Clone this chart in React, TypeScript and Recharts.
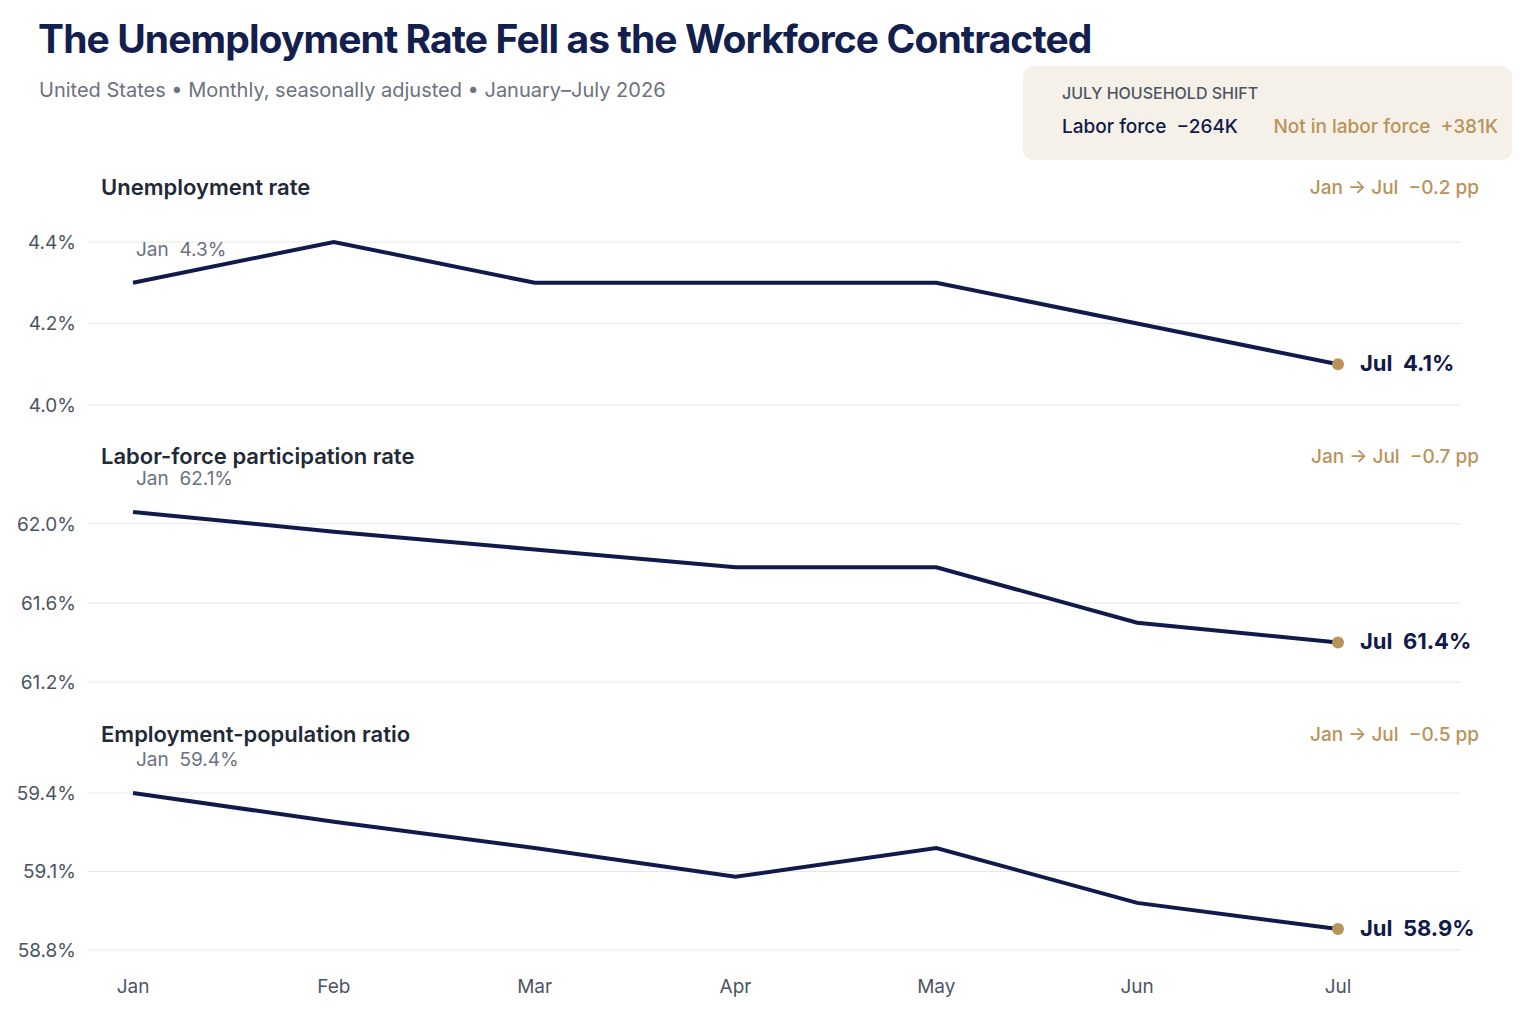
import React from 'react'
import { LineChart, Line, XAxis, YAxis, ReferenceLine } from 'recharts'

const months = ['Jan', 'Feb', 'Mar', 'Apr', 'May', 'Jun', 'Jul']
const unemployment = [4.3, 4.4, 4.3, 4.3, 4.3, 4.2, 4.1]
const participation = [62.06, 61.96, 61.87, 61.78, 61.78, 61.5, 61.4]
const empPop = [59.4, 59.29, 59.19, 59.08, 59.19, 58.98, 58.88]

const NAVY = '#101a4b'
const GOLD = '#b8935a'
const FONT = 'Inter, "Noto Sans", sans-serif'
const SP = '\u00a0\u00a0'

interface Panel {
  title: string
  values: number[]
  domain: [number, number]
  ticks: number[]
  change: string
  top: number
  height: number
  titleY: number
  showX?: boolean
}

// top = plot top - 50 (margin)
const panels: Panel[] = [
  { title: 'Unemployment rate', values: unemployment, domain: [4.0, 4.4], ticks: [4.0, 4.2, 4.4], change: '−0.2 pp', top: 192, height: 233, titleY: 188 },
  { title: 'Labor-force participation rate', values: participation, domain: [61.2, 62.1], ticks: [61.2, 61.6, 62.0], change: '−0.7 pp', top: 454, height: 248, titleY: 457 },
  { title: 'Employment-population ratio', values: empPop, domain: [58.8, 59.4], ticks: [58.8, 59.1, 59.4], change: '−0.5 pp', top: 743, height: 262, titleY: 735, showX: true },
]

const makeDot = (n: number) => (props: any) => {
  const { cx, cy, index, payload } = props
  if (index === 0) {
    return (
      <text key="first" x={cx + 3} y={cy - 27} fill="#6b7280" fontSize={19} fontFamily={FONT}>
        {`Jan${SP}${payload.v.toFixed(1)}%`}
      </text>
    )
  }
  if (index === n - 1) {
    return (
      <g key="last">
        <circle cx={cx} cy={cy} r={6} fill={GOLD} />
        <text x={cx + 22} y={cy + 7} fill={NAVY} fontSize={22} fontWeight={700} fontFamily={FONT}>
          {`Jul${SP}${payload.v.toFixed(1)}%`}
        </text>
      </g>
    )
  }
  return <g key={index} />
}

export default function App() {
  return (
    <div style={{ position: 'absolute', left: 0, top: 0, width: 1529, height: 1029, background: '#fff', fontFamily: FONT, overflow: 'hidden' }}>
      <div style={{ position: 'absolute', left: 38, top: 15, fontSize: 39, fontWeight: 700, color: '#13204d', letterSpacing: -0.9 }}>
        The Unemployment Rate Fell as the Workforce Contracted
      </div>
      <div style={{ position: 'absolute', left: 39, top: 78, fontSize: 20, color: '#6b7280' }}>
        United States • Monthly, seasonally adjusted • January–July 2026
      </div>
      <div style={{ position: 'absolute', left: 1023, top: 66, width: 489, height: 94, background: '#f6f1e8', borderRadius: 10 }}>
        <div style={{ position: 'absolute', left: 39, top: 17, fontSize: 16, color: '#4b5563', fontWeight: 500 }}>JULY HOUSEHOLD SHIFT</div>
        <div style={{ position: 'absolute', left: 39, top: 49, fontSize: 19, color: NAVY, fontWeight: 500 }}>Labor force&nbsp;&nbsp;−264K</div>
        <div style={{ position: 'absolute', right: 14, top: 49, fontSize: 19, color: GOLD, fontWeight: 500 }}>Not in labor force&nbsp;&nbsp;+381K</div>
      </div>
      {panels.map((p) => {
        const data = months.map((m, i) => ({ m, v: p.values[i] }))
        return (
          <React.Fragment key={p.title}>
            <div style={{ position: 'absolute', left: 101, top: p.titleY - 14, fontSize: 22, fontWeight: 600, color: '#1f2937' }}>{p.title}</div>
            <div style={{ position: 'absolute', right: 50, top: p.titleY - 12, fontSize: 19, fontWeight: 500, color: GOLD }}>Jan → Jul&nbsp;&nbsp;{p.change}</div>
            <div style={{ position: 'absolute', left: 0, top: p.top }}>
              <LineChart width={1500} height={p.height} data={data} margin={{ top: 50, right: 40, left: 0, bottom: p.showX ? 0 : 20 }}>
                {p.ticks.map((t) => (
                  <ReferenceLine key={t} y={t} stroke="#e5e7eb" strokeWidth={1} />
                ))}
                <XAxis
                  dataKey="m"
                  hide={!p.showX}
                  axisLine={false}
                  tickLine={false}
                  padding={{ left: 45, right: 122 }}
                  tick={{ fill: '#4b5563', fontSize: 19, fontFamily: FONT }}
                  tickMargin={24}
                  height={55}
                />
                <YAxis
                  domain={p.domain}
                  ticks={p.ticks}
                  width={88}
                  axisLine={false}
                  tickLine={false}
                  tickMargin={6}
                  tickFormatter={(v: number) => `${v.toFixed(1)}%`}
                  tick={{ fill: '#4b5563', fontSize: 19, fontFamily: FONT }}
                />
                <Line
                  dataKey="v"
                  stroke={NAVY}
                  strokeWidth={4}
                  dot={makeDot(data.length)}
                  activeDot={false}
                  isAnimationActive={false}
                />
              </LineChart>
            </div>
          </React.Fragment>
        )
      })}
    </div>
  )
}
